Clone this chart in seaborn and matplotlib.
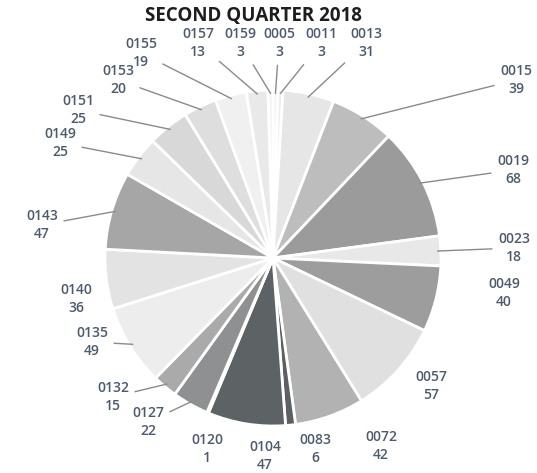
import numpy as np
import matplotlib
matplotlib.use("Agg")
import matplotlib.pyplot as plt
import seaborn as sns

# data (clockwise from 12 o'clock)
codes = ["0005", "0011", "0013", "0015", "0019", "0023", "0049", "0057", "0072", "0083",
         "0104", "0120", "0127", "0132", "0135", "0140", "0143", "0149", "0151", "0153",
         "0155", "0157", "0159"]
counts = [3, 3, 31, 39, 68, 18, 40, 57, 42, 6,
          47, 1, 22, 15, 49, 36, 47, 25, 25, 20,
          19, 13, 3]
grays = ["#f2f2f2", "#ececec", "#e6e6e6", "#bdbdbd", "#9b9b9b", "#e8e8e8", "#9d9d9d", "#e0e0e0",
         "#b2b2b2", "#5c6062", "#5d6264", "#4f5456", "#8f9091", "#aaaaaa", "#ededed", "#e3e3e3",
         "#a6a6a6", "#e6e6e6", "#d8d8d8", "#dedede", "#f0f0f0", "#e9e9e9", "#f3f3f3"]

# label placement, pixel centre of each two-line label, and whether a leader line is drawn
label_px = [(279, 43), (321, 43), (366, 43), (516, 80), (513, 170), (514, 248), (504, 293),
            (431, 386), (381, 446), (315, 449), (265, 456), (207, 449), (148, 422), (113, 397),
            (92, 342), (76, 299), (42, 225), (60, 143), (78, 110), (118, 80), (141, 53),
            (198, 43), (240, 43)]
leader = [1, 1, 1, 1, 1, 1, 0, 0, 0, 0, 0, 0, 1, 1, 1, 0, 1, 1, 1, 1, 1, 1, 1]

W, H = 537, 473
cx, cy, R = 273, 258, 168

sns.set_theme(style="white")
plt.rcParams["font.family"] = ["Open Sans", "DejaVu Sans"]

fig = plt.figure(figsize=(W / 100, H / 100), dpi=100)
ax = fig.add_axes([0, 0, 1, 1])
ax.pie(counts, colors=grays, startangle=90, counterclock=False,
       wedgeprops=dict(edgecolor="white", linewidth=2))
ax.set_xlim(-cx / R, (W - cx) / R)
ax.set_ylim(-(H - cy) / R, cy / R)
ax.set_aspect("equal")
ax.axis("off")

total = sum(counts)
cum = np.cumsum([0] + counts)
for i, (code, n) in enumerate(zip(codes, counts)):
    mid = 90 - (cum[i] + n / 2) / total * 360
    a = np.deg2rad(mid)
    px, py = label_px[i]
    tx, ty = (px - cx) / R, (cy - py) / R
    arrow = dict(arrowstyle="-", color="#8a8a8a", lw=1, shrinkA=2, shrinkB=0) if leader[i] else None
    ax.annotate(f"{code}\n{n}", xy=(0.98 * np.cos(a), 0.98 * np.sin(a)), xytext=(tx, ty),
                ha="center", va="center", fontsize=10, color="#4b5a6c", linespacing=1.4,
                fontweight="semibold", arrowprops=arrow)

fig.text(0.472, 0.966, "SECOND QUARTER 2018", ha="center", va="center",
         fontsize=13.5, fontweight="bold", color="#1e1e1e")

fig.savefig("out.png", dpi=100, facecolor="white")
